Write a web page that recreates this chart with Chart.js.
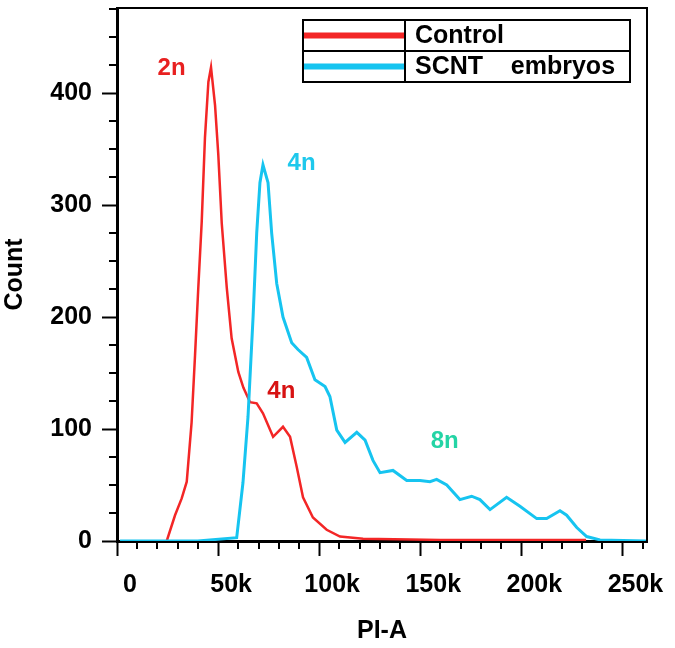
<!DOCTYPE html>
<html>
<head>
<meta charset="utf-8">
<script src="https://cdn.jsdelivr.net/npm/chart.js@4/dist/chart.umd.min.js"></script>
<style>
  body { margin: 0; background: #fff; }
  #wrap { width: 675px; height: 648px; position: relative; }
</style>
</head>
<body>
<div id="wrap"><canvas id="histo"></canvas></div>
<script>
// Data (PI-A channel values, counts)
var seriesNames = ['Control', 'SCNT    embryos'];
var controlX = [24600, 28700, 32000, 34500, 36900, 38600, 40200, 41900, 43500, 45200, 46500, 48500, 50100, 51800, 54300, 56700, 60000, 62500, 65800, 69100, 72200, 77200, 82100, 85600, 88900, 92000, 96900, 103700, 110300, 121700, 160000, 200000, 232000];
var controlY = [0, 23, 38, 53, 106, 166, 226, 285, 360, 410, 423, 389, 345, 284, 226, 181, 151, 137, 124, 123, 114, 93, 102, 93, 66, 39, 21, 10, 4, 2, 1, 1, 1];
var scntX = [1500, 40000, 59200, 62300, 64800, 67300, 69100, 70700, 72200, 74700, 76500, 79000, 82100, 86400, 89500, 93800, 97900, 102900, 105300, 108700, 112800, 118600, 122700, 126600, 130100, 136500, 143300, 149900, 154800, 158100, 163100, 169600, 175400, 179500, 184500, 192700, 199300, 207600, 212500, 219100, 222400, 227400, 232300, 238900, 261600];
var scntY = [0, 0, 3, 52, 111, 200, 275, 320, 336, 320, 275, 230, 200, 177, 171, 164, 144, 138, 129, 99, 88, 97, 90, 72, 61, 63, 54, 54, 53, 55, 50, 37, 40, 37, 28, 39, 31, 20, 20, 27, 23, 12, 4, 1, 0];
var xTickLabels = ['0', '50k', '100k', '150k', '200k', '250k'];
var yTickLabels = ['0', '100', '200', '300', '400'];
// peak labels: text, x, y
var peakText = ['2n', '4n', '4n', '8n'];
var peakX = [27000, 91300, 81300, 162100];
var peakY = [422, 337, 134, 89];
var peakColor = ['rgb(232,32,32)', 'rgb(30,200,236)', 'rgb(215,18,18)', 'rgb(36,212,165)'];

var red = 'rgb(243,38,38)';
var cyan = 'rgb(22,196,240)';
var fontName = '"Liberation Sans", Arial, sans-serif';

function toPoints(xs, ys) {
  var pts = [];
  for (var i = 0; i < xs.length; i++) pts.push({ x: xs[i], y: ys[i] });
  return pts;
}

function stepTicks(max, step) {
  var t = [];
  for (var v = 0; v <= max; v += step) t.push({ value: v });
  return t;
}

// Plugin: frame, minor ticks, legend table, peak labels
var decorPlugin = {
  id: 'decor',
  afterDraw: function (chart) {
    var ctx = chart.ctx;
    var area = chart.chartArea;
    var xs = chart.scales.x;
    var ys = chart.scales.y;
    ctx.save();
    // top and right frame
    ctx.strokeStyle = '#000';
    ctx.lineWidth = 2;
    ctx.beginPath();
    ctx.moveTo(area.left, area.top);
    ctx.lineTo(area.right, area.top);
    ctx.lineTo(area.right, area.bottom);
    ctx.stroke();
    // minor ticks
    ctx.lineWidth = 2;
    ctx.beginPath();
    xs.ticks.forEach(function (t) {
      if (t.value % 50000 !== 0) {
        var px = Math.round(xs.getPixelForValue(t.value));
        ctx.moveTo(px, area.bottom);
        ctx.lineTo(px, area.bottom + 8);
      }
    });
    ys.ticks.forEach(function (t) {
      if (t.value % 100 !== 0) {
        var py = Math.round(ys.getPixelForValue(t.value));
        ctx.moveTo(area.left, py);
        ctx.lineTo(area.left - 8, py);
      }
    });
    ctx.stroke();
    // legend table
    var L = 303, R = 630, T = 20, M = 51, B = 82, D = 405;
    ctx.lineWidth = 2;
    ctx.strokeRect(L, T, R - L, B - T);
    ctx.beginPath();
    ctx.moveTo(L, M); ctx.lineTo(R, M);
    ctx.moveTo(D, T); ctx.lineTo(D, B);
    ctx.stroke();
    var rows = [(T + M) / 2, (M + B) / 2];
    chart.data.datasets.forEach(function (ds, i) {
      ctx.strokeStyle = ds.borderColor;
      ctx.lineWidth = 6;
      ctx.beginPath();
      ctx.moveTo(L + 1, rows[i]);
      ctx.lineTo(D - 1, rows[i]);
      ctx.stroke();
      ctx.fillStyle = '#000';
      ctx.font = 'bold 25px ' + fontName;
      ctx.textAlign = 'left';
      ctx.textBaseline = 'middle';
      ctx.fillText(ds.label, D + 10, rows[i] + 1);
    });
    // peak labels
    ctx.font = 'bold 24px ' + fontName;
    ctx.textAlign = 'center';
    ctx.textBaseline = 'middle';
    for (var k = 0; k < peakText.length; k++) {
      ctx.fillStyle = peakColor[k];
      ctx.fillText(peakText[k], xs.getPixelForValue(peakX[k]), ys.getPixelForValue(peakY[k]));
    }
    ctx.restore();
  }
};

var tickFont = { family: fontName, size: 25, weight: 'bold' };

var histoChart = new Chart(document.getElementById('histo'), {
  type: 'line',
  data: {
    datasets: [
      {
        label: seriesNames[0],
        data: toPoints(controlX, controlY),
        borderColor: red,
        borderWidth: 2.5,
        pointRadius: 0,
        tension: 0,
        order: 2
      },
      {
        label: seriesNames[1],
        data: toPoints(scntX, scntY),
        borderColor: cyan,
        borderWidth: 3,
        pointRadius: 0,
        tension: 0,
        order: 1
      }
    ]
  },
  options: {
    responsive: true,
    maintainAspectRatio: false,
    animation: false,
    layout: { padding: { top: 8, right: 28, left: 0, bottom: 0 } },
    plugins: { legend: { display: false }, tooltip: { enabled: false } },
    scales: {
      x: {
        type: 'linear',
        min: 0,
        max: 262144,
        afterBuildTicks: function (s) { s.ticks = stepTicks(260000, 10000); },
        afterFit: function (s) { s.height = 107; s.paddingLeft = 0; s.paddingRight = 0; },
        border: { color: '#000', width: 3 },
        grid: {
          drawOnChartArea: false,
          tickLength: 15,
          tickWidth: 2,
          tickColor: function (c) { return c.tick && c.tick.value % 50000 === 0 ? '#000' : 'rgba(0,0,0,0)'; }
        },
        ticks: {
          autoSkip: false,
          maxRotation: 0,
          padding: 14,
          labelOffset: 13,
          color: '#000',
          font: tickFont,
          callback: function (v) {
            var r = Math.round(v);
            return r % 50000 === 0 ? xTickLabels[r / 50000] : '';
          }
        },
        title: { display: true, text: 'PI-A', color: '#000', font: tickFont, padding: { top: 0, bottom: 2 } }
      },
      y: {
        min: 0,
        max: 476,
        afterBuildTicks: function (s) { s.ticks = stepTicks(475, 25); },
        afterFit: function (s) { s.width = 117; s.paddingTop = 0; s.paddingBottom = 0; },
        border: { color: '#000', width: 3 },
        grid: {
          drawOnChartArea: false,
          tickLength: 15,
          tickWidth: 2,
          tickColor: function (c) { return c.tick && c.tick.value % 100 === 0 ? '#000' : 'rgba(0,0,0,0)'; }
        },
        ticks: {
          autoSkip: false,
          padding: 10,
          color: '#000',
          font: tickFont,
          callback: function (v) {
            var r = Math.round(v);
            return r % 100 === 0 ? yTickLabels[r / 100] : '';
          }
        },
        title: { display: true, text: 'Count', color: '#000', font: tickFont, padding: { top: 0, bottom: 1 } }
      }
    }
  },
  plugins: [decorPlugin]
});
</script>
</body>
</html>
